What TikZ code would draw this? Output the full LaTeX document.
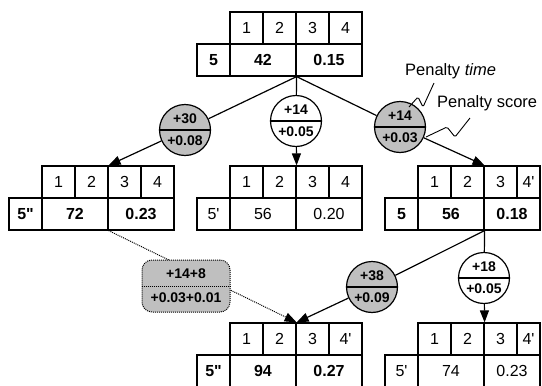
\documentclass[tikz,border=0pt]{standalone}
\usepackage{fontspec}
\setmainfont{Liberation Sans}[Ligatures=TeXOff]
\usetikzlibrary{arrows.meta}
\tikzset{
  cell/.style={draw, line width=1.2pt, rectangle, minimum height=32pt, inner sep=0pt, anchor=center, font=\fontsize{16}{18}\selectfont},
  pen/.style={circle, draw, line width=1.2pt, minimum size=51pt, inner sep=0pt},
  graypen/.style={pen, fill=gray!50},
  whitepen/.style={pen, fill=white},
  ptxt/.style={font=\bfseries\fontsize{14}{16}\selectfont, inner sep=0pt},
  link/.style={line width=1.2pt},
  arr/.style={line width=1.2pt, -{Triangle[length=12pt,width=9pt]}},
  dotlink/.style={line width=1pt, densely dotted, -{Triangle[length=12pt,width=9pt]}},
  sumbox/.style={draw, densely dotted, line width=1pt, fill=gray!50, rounded corners=10pt, minimum width=88pt, minimum height=52pt, inner sep=0pt},
  btxt/.style={font=\bfseries\fontsize{14}{16}\selectfont, inner sep=0pt},
  lbl/.style={font=\fontsize{16.5}{19}\selectfont, inner sep=0pt},
  wiggle/.style={line width=0.9pt, rounded corners=1.5pt},
}
% #1 name, #2 left x of top row, #3 top y, #4 right edge, #5 label, #6 value, #7 score, #8 fourth, #9 weight
\newcommand\ptable[9]{%
  \node[cell, minimum width=33pt] (#1-c1) at ({#2+16.5},{#3+16}) {1};
  \node[cell, minimum width=33pt] (#1-c2) at ({#2+49.5},{#3+16}) {2};
  \node[cell, minimum width=33pt] (#1-c3) at ({#2+82.5},{#3+16}) {3};
  \node[cell, minimum width={(#4-#2-99)*1pt}] (#1-c4) at ({(#2+99+#4)/2},{#3+16}) {#8};
  \node[cell, minimum width=33pt, font={\fontsize{16}{18}\selectfont#9}] (#1-lab) at ({#2-16.5},{#3+48}) {#5};
  \node[cell, minimum width=66pt, font={\fontsize{16}{18}\selectfont#9}] (#1-mid) at ({#2+33},{#3+48}) {#6};
  \node[cell, minimum width={(#4-#2-66)*1pt}, font={\fontsize{16}{18}\selectfont#9}] (#1-val) at ({(#2+66+#4)/2},{#3+48}) {#7};
}
% #1 name, #2 style, #3 x, #4 y, #5 top text, #6 bottom text
\newcommand\pcirc[6]{%
  \node[#2] (#1) at (#3,#4) {};
  \draw[link] (#1.west) -- (#1.east);
  \node[ptxt] (#1-t) at ([yshift=11pt]#1.center) {#5};
  \node[ptxt] (#1-b) at ([yshift=-11pt]#1.center) {#6};
}
\begin{document}
\begin{tikzpicture}[x=1pt, y=-1pt]
\useasboundingbox (0,0) rectangle (542,386);

\ptable{t}{230}{12}{362}{5}{42}{0.15}{4}{\bfseries}
\ptable{l}{42}{166}{174}{5"}{72}{0.23}{4}{\bfseries}
\ptable{m}{230}{166}{362}{5'}{56}{0.20}{4}{\mdseries}
\ptable{r}{418}{166}{540}{5}{56}{0.18}{4'}{\bfseries}
\ptable{mm}{230}{323}{362}{5"}{94}{0.27}{4'}{\bfseries}
\ptable{rr}{418}{323}{540}{5'}{74}{0.23}{4'}{\mdseries}

\pcirc{pL}{graypen}{185}{130}{+30}{+0.08}
\pcirc{pM}{whitepen}{296}{121}{+14}{+0.05}
\pcirc{pR}{graypen}{400}{127}{+14}{+0.03}
\pcirc{pA}{graypen}{372}{287}{+38}{+0.09}
\pcirc{pB}{whitepen}{484}{278}{+18}{+0.05}

\draw[link] (t-mid.south east) -- (pL);
\draw[arr] (pL) -- (l-c2.north east);
\draw[link] (t-mid.south east) -- (pM);
\draw[arr] (pM) -- (m-c2.north east);
\draw[link] (t-mid.south east) -- (pR);
\draw[arr] (pR) -- (r-c2.north east);
\draw[link] (r-mid.south east) -- (pA);
\draw[arr] (pA) -- (mm-c2.north east);
\draw[link] (r-mid.south east) -- (pB);
\draw[arr] (pB) -- (rr-c2.north east);

\draw[dotlink] (l-mid.south east) -- (mm-c2.north east);
\node[sumbox] (sb) at (186,286) {};
\draw[densely dotted, line width=1pt] (sb.west) -- (sb.east);
\node[btxt] (sb-t) at ([yshift=12pt]sb.center) {+14+8};
\node[btxt] (sb-b) at ([yshift=-12pt]sb.center) {+0.03+0.01};

\node[lbl, anchor=west] (ptime) at (405,71) {Penalty \textit{time}};
\node[lbl, anchor=west] (pscore) at (437,103) {Penalty score};
\coordinate (w1) at (434,83);
\coordinate (w2) at (470,118);
\draw[wiggle] (w1) -- (423,107) -- (418,97) -- (409,107);
\draw[wiggle] (w2) -- (455,137) -- (447,127) -- (426,137);
\end{tikzpicture}
\end{document}
